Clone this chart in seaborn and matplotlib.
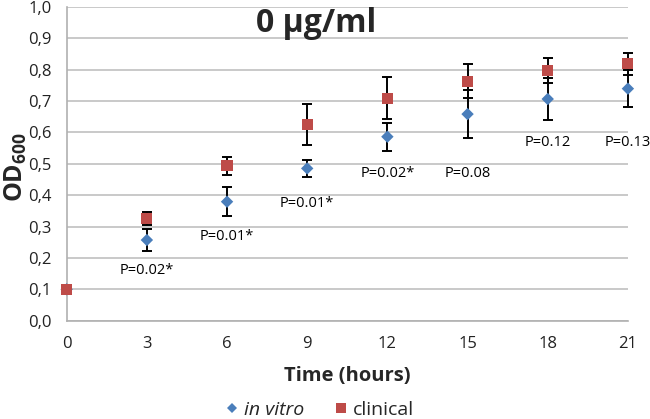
import matplotlib
matplotlib.use("Agg")
import matplotlib.pyplot as plt
import seaborn as sns
import pandas as pd
import numpy as np
from matplotlib.lines import Line2D

time = [0, 3, 6, 9, 12, 15, 18, 21]
invitro = [0.100, 0.257, 0.379, 0.485, 0.586, 0.658, 0.706, 0.739]
invitro_err = [0.0, 0.036, 0.046, 0.027, 0.045, 0.077, 0.068, 0.060]
clinical = [0.100, 0.326, 0.493, 0.626, 0.709, 0.762, 0.797, 0.818]
clinical_err = [0.0, 0.020, 0.028, 0.065, 0.066, 0.054, 0.041, 0.035]
p_labels = ["P=0.02*", "P=0.01*", "P=0.01*", "P=0.02*", "P=0.08", "P=0.12", "P=0.13"]
p_times = [3, 6, 9, 12, 15, 18, 21]
p_y = [0.161, 0.268, 0.372, 0.469, 0.469, 0.568, 0.568]
title = "0 μg/ml"
series_names = ["in vitro", "clinical"]

sns.set_theme(style="white")
plt.rcParams['font.family'] = ['Open Sans', 'DejaVu Sans']
plt.rcParams['mathtext.fontset'] = 'custom'
plt.rcParams['mathtext.rm'] = 'Open Sans'
plt.rcParams['mathtext.bf'] = 'Open Sans:bold'
plt.rcParams['mathtext.it'] = 'Open Sans:italic'

blue = "#4A7EBB"
red = "#BE4B48"

df = pd.DataFrame({
    "time": time + time,
    "OD": invitro + clinical,
    "series": [series_names[0]] * len(time) + [series_names[1]] * len(time),
})

fig = plt.figure(figsize=(6.5, 4.19), dpi=100)
ax = fig.add_axes([0.1026, 0.2346, 0.9660 - 0.1026, 0.984 - 0.2346])

for vals, errs in [(invitro, invitro_err), (clinical, clinical_err)]:
    eb = ax.errorbar(time, vals, yerr=errs, fmt="none", ecolor="black",
                     elinewidth=1.4, capsize=3.5, capthick=1.4, zorder=3)
    for art in eb.lines[1] + eb.lines[2]:
        art.set_clip_on(False)

sns.scatterplot(data=df, x="time", y="OD", hue="series", style="series",
                markers={series_names[0]: "D", series_names[1]: "s"},
                palette={series_names[0]: blue, series_names[1]: red},
                size="series", sizes={series_names[0]: 40, series_names[1]: 64},
                linewidth=0, legend=False, ax=ax, zorder=4, clip_on=False)

for t, y, lab in zip(p_times, p_y, p_labels):
    ax.text(t, y, lab, ha="center", va="center", fontsize=10.5, color="black")

ax.set_xlim(0, 21)
ax.set_ylim(0, 1.0)
ax.set_xticks(np.arange(0, 22, 3))
ax.set_yticks(np.arange(0, 1.01, 0.1))
ax.set_yticklabels([f"{v:.1f}".replace(".", ",") for v in np.arange(0, 1.01, 0.1)])
ax.yaxis.grid(True, color="#C0C0C0", linewidth=1.2)
ax.xaxis.grid(False)
ax.set_axisbelow(True)
for s in ["top", "right"]:
    ax.spines[s].set_visible(False)
for s in ["left", "bottom"]:
    ax.spines[s].set_color("#B0B0B0")
    ax.spines[s].set_linewidth(1.2)
ax.tick_params(axis="both", which="both", direction="out", length=5, width=1.0,
               color="#B0B0B0", labelsize=12)
ax.tick_params(axis="x", pad=6)
ax.tick_params(axis="y", pad=6)
for lbl in ax.get_xticklabels() + ax.get_yticklabels():
    lbl.set_color("#222222")
ax.set_xlabel("Time (hours)", fontsize=14.5, fontweight="bold")
ax.xaxis.set_label_coords(0.5, -0.145)
ax.set_ylabel(r"$\mathbf{OD_{600}}$", fontsize=18)
ax.yaxis.set_label_coords(-0.068, 0.49)

fig.text(316 / 650, 1 - 31.7 / 419, title, ha="center", va="baseline",
         fontsize=23, fontweight="bold")

handles = [
    Line2D([0], [0], marker="D", color="none", markerfacecolor=blue,
           markeredgewidth=0, markersize=5.5, label=series_names[0]),
    Line2D([0], [0], marker="s", color="none", markerfacecolor=red,
           markeredgewidth=0, markersize=7, label=series_names[1]),
]
leg = fig.legend(handles=handles, loc="center", bbox_to_anchor=(318 / 650, 1 - 410 / 419),
                 ncol=2, frameon=False, fontsize=14, handletextpad=0.1,
                 columnspacing=1.4, handlelength=1.0, borderpad=0)
leg.get_texts()[0].set_fontstyle("italic")

fig.savefig("out.png", dpi=100)
